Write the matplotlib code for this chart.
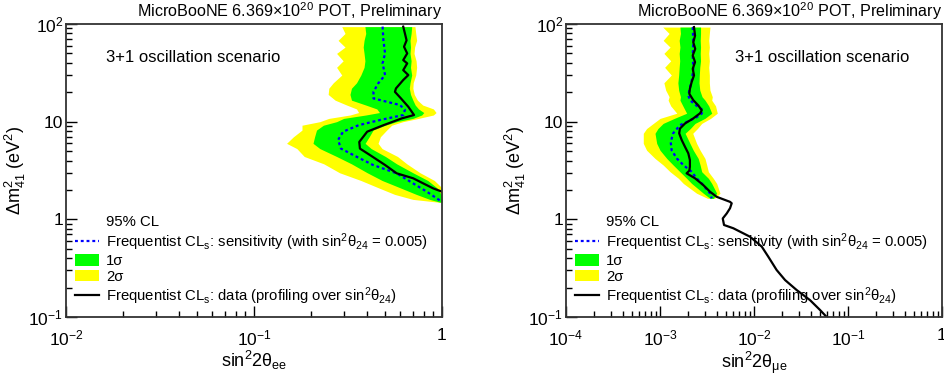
import numpy as np
import matplotlib.pyplot as plt
from matplotlib.lines import Line2D
from matplotlib.patches import Patch
from matplotlib.ticker import LogLocator, NullFormatter

plt.rcParams['font.family'] = ['Liberation Sans', 'DejaVu Sans']
plt.rcParams['mathtext.fontset'] = 'custom'
plt.rcParams['mathtext.rm'] = 'Liberation Sans'
plt.rcParams['mathtext.it'] = 'Liberation Sans:italic'
plt.rcParams['mathtext.bf'] = 'Liberation Sans:bold'
plt.rcParams['mathtext.default'] = 'regular'

# ---- nu_e disappearance (sin^2 2theta_ee) ----
ee_band_dm2 = [94, 80, 68, 58, 50, 42, 36, 30, 25, 22, 19, 16.6, 14.8, 13.5, 12.4, 11.7, 10.8, 10.0,
               9.2, 8.2, 7.0, 6.0, 5.3, 4.4, 3.7, 3.0, 2.5, 2.1, 1.8, 1.6, 1.5]
ee_2s_lo = [0.293, 0.305, 0.280, 0.305, 0.275, 0.298, 0.275, 0.293, 0.264, 0.250, 0.248, 0.270, 0.311, 0.351,
            0.360, 0.324, 0.250, 0.224, 0.180, 0.180, 0.162, 0.149, 0.169, 0.185, 0.235, 0.285, 0.370, 0.460,
            0.560, 0.700, 0.950]
ee_1s_lo = [0.389, 0.393, 0.385, 0.381, 0.385, 0.389, 0.385, 0.370, 0.351, 0.330, 0.324, 0.330, 0.393, 0.450,
            0.465, 0.393, 0.300, 0.275, 0.234, 0.215, 0.210, 0.206, 0.224, 0.275, 0.330, 0.400, 0.480, 0.600,
            0.730, 0.860, 0.970]
ee_1s_hi = [0.690, 0.685, 0.676, 0.680, 0.676, 0.685, 0.680, 0.690, 0.676, 0.670, 0.680, 0.700, 0.720, 0.750,
            0.800, 0.780, 0.700, 0.574, 0.500, 0.430, 0.410, 0.390, 0.420, 0.500, 0.574, 0.700, 0.840, 0.940,
            0.990, 1.000, 1.000]
ee_2s_hi = [0.718, 0.725, 0.733, 0.715, 0.710, 0.728, 0.733, 0.725, 0.703, 0.700, 0.712, 0.740, 0.790, 0.900,
            0.930, 0.900, 0.750, 0.620, 0.540, 0.508, 0.470, 0.457, 0.480, 0.580, 0.650, 0.764, 0.910, 1.000,
            1.000, 1.000, 1.000]
ee_sens_dm2 = [94, 68, 50, 39.5, 30, 24.7, 20.2, 17.3, 16, 14.8, 13.2, 11.7, 10.4, 9.2, 7.9, 6.5, 5.3, 4.38,
               3.6, 2.96, 2.33, 1.92, 1.51]
ee_sens = [0.483, 0.488, 0.498, 0.483, 0.498, 0.458, 0.432, 0.432, 0.508, 0.598, 0.635, 0.622, 0.468, 0.360,
           0.298, 0.280, 0.290, 0.351, 0.430, 0.574, 0.703, 0.830, 1.000]
ee_data_dm2 = [94, 80, 68, 58.5, 50, 42.7, 39.5, 33.7, 30, 26.7, 21.9, 20.2, 17.3, 14.2, 11.7, 10.8, 9.2, 7.9,
               6.2, 5.3, 4.55, 3.6, 2.96, 2.63, 2.33, 2.07, 1.92]
ee_data = [0.622, 0.635, 0.648, 0.628, 0.653, 0.622, 0.653, 0.622, 0.662, 0.622, 0.569, 0.562, 0.605, 0.662,
           0.710, 0.611, 0.488, 0.400, 0.363, 0.366, 0.414, 0.498, 0.574, 0.703, 0.796, 0.900, 1.000]

# ---- nu_e appearance (sin^2 2theta_mue) ----
mue_band_dm2 = [93, 80, 68, 58, 50, 42, 36, 30, 25, 21, 18, 16.6, 14.5, 12.2, 10.8, 9.6, 8.5, 7.6, 6.0, 5.1,
                4.2, 3.6, 3.07, 2.63, 2.33, 1.85, 1.64]
mue_2s_lo = [1.07e-3, 1.25e-3, 1.08e-3, 1.28e-3, 1.10e-3, 1.30e-3, 1.12e-3, 1.32e-3, 1.10e-3, 1.15e-3, 1.25e-3,
             1.22e-3, 1.30e-3, 1.51e-3, 1.00e-3, 8.5e-4, 7.2e-4, 6.64e-4, 6.64e-4, 7.2e-4, 8.85e-4, 1.08e-3,
             1.28e-3, 1.57e-3, 1.77e-3, 2.45e-3, 3.2e-3]
mue_1s_lo = [1.63e-3, 1.65e-3, 1.60e-3, 1.63e-3, 1.60e-3, 1.62e-3, 1.60e-3, 1.58e-3, 1.55e-3, 1.58e-3, 1.65e-3,
             1.63e-3, 1.75e-3, 1.92e-3, 1.42e-3, 1.08e-3, 9.5e-4, 8.85e-4, 9.22e-4, 1.00e-3, 1.18e-3, 1.38e-3,
             1.63e-3, 1.92e-3, 2.17e-3, 2.89e-3, 3.4e-3]
mue_1s_hi = [2.70e-3, 2.70e-3, 2.68e-3, 2.70e-3, 2.68e-3, 2.70e-3, 2.65e-3, 2.62e-3, 2.60e-3, 2.65e-3, 2.80e-3,
             3.01e-3, 3.30e-3, 3.55e-3, 3.00e-3, 2.36e-3, 2.10e-3, 1.85e-3, 2.08e-3, 2.26e-3, 2.55e-3, 2.67e-3,
             2.78e-3, 3.27e-3, 3.55e-3, 4.01e-3, 3.7e-3]
mue_2s_hi = [3.40e-3, 3.35e-3, 3.30e-3, 3.35e-3, 3.30e-3, 3.35e-3, 3.30e-3, 3.35e-3, 3.35e-3, 3.40e-3, 3.60e-3,
             3.55e-3, 3.90e-3, 4.07e-3, 3.45e-3, 2.78e-3, 2.50e-3, 2.23e-3, 2.45e-3, 2.67e-3, 3.01e-3, 3.14e-3,
             3.27e-3, 3.69e-3, 4.01e-3, 4.35e-3, 3.8e-3]
mue_sens_dm2 = [93, 65, 47.7, 34.8, 27.5, 20.9, 18.6, 16.6, 14.1, 13.2, 12.1, 11.1, 9.2, 7.6, 6.2, 5.1, 4.2,
                3.6, 3.07, 2.63, 2.33, 1.85, 1.64]
mue_sens = [2.23e-3, 2.26e-3, 2.23e-3, 2.26e-3, 2.20e-3, 2.05e-3, 2.00e-3, 2.08e-3, 2.55e-3, 2.85e-3, 2.78e-3,
            2.45e-3, 1.63e-3, 1.38e-3, 1.30e-3, 1.33e-3, 1.51e-3, 1.77e-3, 2.17e-3, 2.45e-3, 2.78e-3, 3.40e-3,
            3.55e-3]
mue_data_dm2 = [93, 76, 65, 55.7, 47.7, 40.7, 34.8, 29.8, 25.4, 21.7, 19.3, 16.6, 14.7, 13.1, 12.2, 10.8, 9.6,
                8.5, 7.6, 6.5, 5.5, 4.74, 4.05, 3.45, 3.15, 2.96, 2.63, 2.24, 1.92, 1.70, 1.51, 1.46, 1.30,
                1.15, 1.02, 0.875, 0.81, 0.664, 0.525, 0.414, 0.303, 0.239, 0.189, 0.149, 0.118, 0.1]
mue_data = [2.30e-3, 2.36e-3, 2.26e-3, 2.37e-3, 2.23e-3, 2.36e-3, 2.23e-3, 2.30e-3, 2.17e-3, 2.08e-3, 2.05e-3,
            2.26e-3, 2.55e-3, 2.78e-3, 2.67e-3, 2.26e-3, 1.85e-3, 1.63e-3, 1.60e-3, 1.70e-3, 1.85e-3, 2.00e-3,
            2.08e-3, 2.08e-3, 2.05e-3, 1.92e-3, 2.36e-3, 2.89e-3, 3.40e-3, 4.01e-3, 5.56e-3, 5.79e-3, 5.56e-3,
            5.13e-3, 4.65e-3, 4.80e-3, 6.03e-3, 9.06e-3, 1.21e-2, 1.42e-2, 1.74e-2, 2.14e-2, 2.84e-2, 3.94e-2,
            5.04e-2, 5.93e-2]

y_ticks = [0.1, 1, 10, 100]
y_ticklabels = ['10$^{-1}$', '1', '10', '10$^{2}$']
ee_xticks = [0.01, 0.1, 1]
ee_xticklabels = ['10$^{-2}$', '10$^{-1}$', '1']
mue_xticks = [1e-4, 1e-3, 1e-2, 1e-1, 1]
mue_xticklabels = ['10$^{-4}$', '10$^{-3}$', '10$^{-2}$', '10$^{-1}$', '1']

title = 'MicroBooNE 6.369\u00d710$^{20}$ POT, Preliminary'
leg_labels = ['95% CL',
              'Frequentist CL$_{s}$: sensitivity (with sin$^{2}$\u03b8$_{24}$ = 0.005)',
              '1\u03c3', '2\u03c3',
              'Frequentist CL$_{s}$: data (profiling over sin$^{2}$\u03b8$_{24}$)']

GREEN = '#00ff00'
YELLOW = '#ffff00'


def panel(ax, band_dm2, s2lo, s1lo, s1hi, s2hi, sens_dm2, sens, data_dm2, data,
          xticks, xticklabels, xlabel, note_x):
    ax.set_xscale('log')
    ax.set_yscale('log')
    ax.fill_betweenx(band_dm2, s2lo, s2hi, color=YELLOW, lw=0)  # 2 sigma band
    ax.fill_betweenx(band_dm2, s1lo, s1hi, color=GREEN, lw=0)   # 1 sigma band
    ax.plot(sens, sens_dm2, color='#0000ff', lw=1.6, ls=(0, (1.3, 1.3)))
    ax.plot(data, data_dm2, color='black', lw=1.6)
    ax.set_xlim(xticks[0], xticks[-1])
    ax.set_ylim(0.1, 100)
    ax.set_xticks(xticks)
    ax.set_xticklabels(xticklabels)
    ax.set_yticks(y_ticks)
    ax.set_yticklabels(y_ticklabels)
    ax.xaxis.set_minor_locator(LogLocator(base=10, subs=np.arange(2, 10)))
    ax.yaxis.set_minor_locator(LogLocator(base=10, subs=np.arange(2, 10)))
    ax.xaxis.set_minor_formatter(NullFormatter())
    ax.yaxis.set_minor_formatter(NullFormatter())
    ax.tick_params(which='both', direction='in', labelsize=12.5, width=1)
    ax.tick_params(which='major', length=8)
    ax.tick_params(which='minor', length=4)
    ax.tick_params(axis='x', pad=8)
    ax.tick_params(axis='y', pad=2)
    for s in ax.spines.values():
        s.set_linewidth(1.3)
        s.set_color('#333333')
    ax.set_xlabel(xlabel, fontsize=13)
    ax.xaxis.set_label_coords(0.5, -0.11)
    ax.set_ylabel('\u0394m$^{2}_{41}$ (eV$^{2}$)', fontsize=13)
    ax.yaxis.set_label_coords(-0.10, 0.5)
    ax.text(1.0, 1.006, title, transform=ax.transAxes, ha='right', va='bottom', fontsize=11.6)
    ax.text(note_x, 0.885, '3+1 oscillation scenario', transform=ax.transAxes, ha='left', va='center',
            fontsize=12)
    handles = [Line2D([], [], color='none'),
               Line2D([], [], color='#0000ff', lw=1.6, ls=(0, (1.3, 1.3))),
               Patch(facecolor=GREEN, edgecolor='none'),
               Patch(facecolor=YELLOW, edgecolor='none'),
               Line2D([], [], color='black', lw=1.6)]
    ax.legend(handles, leg_labels, loc='lower left', bbox_to_anchor=(0.025, 0.035), frameon=False,
              fontsize=10.7, handlelength=1.6, handleheight=0.85, handletextpad=0.45,
              labelspacing=0.1, borderpad=0, borderaxespad=0)


fig = plt.figure(figsize=(9.44, 3.81), dpi=100)
ax1 = fig.add_axes([66 / 944, 64 / 381, 376 / 944, 293 / 381])
ax2 = fig.add_axes([566 / 944, 64 / 381, 376 / 944, 293 / 381])

panel(ax1, ee_band_dm2, ee_2s_lo, ee_1s_lo, ee_1s_hi, ee_2s_hi, ee_sens_dm2, ee_sens,
      ee_data_dm2, ee_data, ee_xticks, ee_xticklabels, 'sin$^{2}$2\u03b8$_{ee}$', 0.106)
panel(ax2, mue_band_dm2, mue_2s_lo, mue_1s_lo, mue_1s_hi, mue_2s_hi, mue_sens_dm2, mue_sens,
      mue_data_dm2, mue_data, mue_xticks, mue_xticklabels, 'sin$^{2}$2\u03b8$_{\u03bce}$', 0.449)

fig.savefig('out.png', dpi=100)
